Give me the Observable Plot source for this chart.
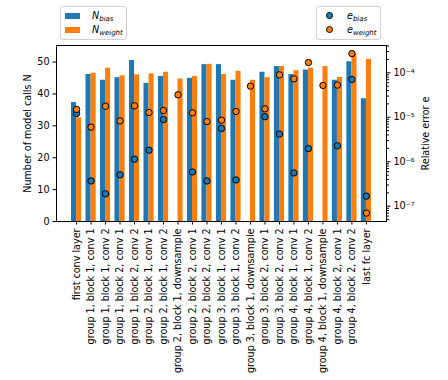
<!DOCTYPE html>
<html><head><meta charset="utf-8">
<script src="https://cdn.jsdelivr.net/npm/d3@7"></script>
<script src="https://cdn.jsdelivr.net/npm/@observablehq/plot@0.6"></script>
<style>
body{margin:0;background:#fff;font-family:"DejaVu Sans",sans-serif;}
#wrap{position:relative;width:448px;height:380px;overflow:hidden;}
#wrap svg{position:absolute;left:0;top:0;}
.legend{position:absolute;background:#fff;border:1px solid #d0d0d0;border-radius:3px;box-sizing:border-box;font-size:9.6px;color:#000;}
.legend .sw{position:absolute;width:15px;height:5.5px;}
.legend .dt{position:absolute;width:5px;height:5px;border:1px solid #000;border-radius:50%;}
.legend .lb{position:absolute;font-style:italic;line-height:10px;white-space:nowrap;}
.legend sub{font-size:7px;vertical-align:-2px;line-height:0;}
</style>
</head><body>
<div id="wrap">
  <div class="legend" style="left:60px;top:6px;width:67px;height:34px;">
    <div class="sw" style="left:4px;top:6px;background:#1f77b4"></div>
    <div class="lb" style="left:31px;top:4px;">N<sub>bias</sub></div>
    <div class="sw" style="left:4px;top:20px;background:#ff7f0e"></div>
    <div class="lb" style="left:31px;top:18px;">N<sub>weight</sub></div>
  </div>
  <div class="legend" style="left:316px;top:6px;width:65px;height:34px;">
    <div class="dt" style="left:9px;top:5px;background:#1f77b4"></div>
    <div class="lb" style="left:30px;top:4px;">e<sub>bias</sub></div>
    <div class="dt" style="left:9px;top:19px;background:#ff7f0e"></div>
    <div class="lb" style="left:30px;top:18px;">e<sub>weight</sub></div>
  </div>
</div>
<script>
const categories = [
  "first conv layer",
  "group 1, block 1, conv 1",
  "group 1, block 1, conv 2",
  "group 1, block 2, conv 1",
  "group 1, block 2, conv 2",
  "group 2, block 1, conv 1",
  "group 2, block 1, conv 2",
  "group 2, block 1, downsample",
  "group 2, block 2, conv 1",
  "group 2, block 2, conv 2",
  "group 3, block 1, conv 1",
  "group 3, block 1, conv 2",
  "group 3, block 1, downsample",
  "group 3, block 2, conv 1",
  "group 3, block 2, conv 2",
  "group 4, block 1, conv 1",
  "group 4, block 1, conv 2",
  "group 4, block 1, downsample",
  "group 4, block 2, conv 1",
  "group 4, block 2, conv 2",
  "last fc layer"
];
const nBias   = [37.3, 46.1, 44.3, 45.1, 50.5, 43.3, 45.5, null, 44.9, 49.2, 49.2, 44.3, null, 46.8, 48.6, 46.1, 47.5, null, 44.3, 50.1, 38.5];
const nWeight = [32.5, 46.5, 48.1, 45.7, 46.0, 46.3, 46.8, 44.7, 45.5, 49.3, 46.1, 47.1, 44.3, 45.1, 48.6, 47.3, 48.1, 48.6, 45.2, 52.6, 50.8];
const eBias   = [1.22e-5, 3.7e-7, 1.9e-7, 5.1e-7, 1.14e-6, 1.82e-6, 8.9e-6, null, 5.9e-7, 3.7e-7, 5.6e-6, 3.9e-7, null, 1.03e-5, 4.2e-6, 5.6e-7, 1.98e-6, null, 2.28e-6, 7.1e-5, 1.68e-7];
const eWeight = [1.5e-5, 6.0e-6, 1.77e-5, 8.3e-6, 1.81e-5, 1.28e-5, 1.42e-5, 3.2e-5, 1.26e-5, 8.0e-6, 8.6e-6, 1.35e-5, 5.0e-5, 1.55e-5, 9.0e-5, 7.3e-5, 1.7e-4, 5.2e-5, 5.3e-5, 2.7e-4, 7.0e-8];
const leftTicks = [0, 10, 20, 30, 40, 50];
const rightTicks = [1e-7, 1e-6, 1e-5, 1e-4];
const rightTickLabels = ["10⁻⁷", "10⁻⁶", "10⁻⁵", "10⁻⁴"];

const BLUE = "#1f77b4", ORANGE = "#ff7f0e";
const barW = 0.35;
const xDomain = [-1.385, 21.385];
const W = 448, H = 380;
const M = {marginLeft: 56, marginRight: 62, marginTop: 45, marginBottom: 159};
const font = {fontFamily: "DejaVu Sans", fontSize: "9.6px", background: "transparent", overflow: "visible", color: "black"};

const idx = d3.range(categories.length);
const biasRows = idx.filter(i => nBias[i] != null).map(i => ({i, v: nBias[i]}));
const weightRows = idx.map(i => ({i, v: nWeight[i]}));
const eBiasRows = idx.filter(i => eBias[i] != null).map(i => ({i, e: eBias[i]}));
const eWeightRows = idx.map(i => ({i, e: eWeight[i]}));

const minor = [];
for (let p = -8; p <= -4; p++) for (let k = 2; k <= 9; k++) {
  const v = k * Math.pow(10, p);
  if (v > 4.53e-8 && v < 4.11e-4) minor.push(v);
}

const p1 = Plot.plot({
  width: W, height: H, ...M, style: font,
  x: {domain: xDomain},
  y: {domain: [0, 55.2]},
  marks: [
    Plot.rect(biasRows, {x1: d => d.i - barW, x2: d => d.i, y1: 0, y2: "v", fill: BLUE}),
    Plot.rect(weightRows, {x1: d => d.i, x2: d => d.i + barW, y1: 0, y2: "v", fill: ORANGE}),
    Plot.axisX({ticks: idx, tickFormat: i => categories[i], tickRotate: -90, tickSize: 3.5, tickPadding: 3.5, label: null}),
    Plot.axisY({ticks: leftTicks, tickSize: 3.5, tickPadding: 3.5, label: "Number of model calls N", labelAnchor: "center", labelArrow: "none", labelOffset: 32}),
    Plot.frame({stroke: "black", strokeWidth: 1})
  ]
});

const p2 = Plot.plot({
  width: W, height: H, ...M, style: font,
  x: {domain: xDomain, axis: null},
  y: {type: "log", domain: [4.53e-8, 4.11e-4]},
  marks: [
    Plot.axisY({anchor: "right", ticks: minor, tickSize: 2, tickFormat: () => "", label: null}),
    Plot.axisY({anchor: "right", ticks: rightTicks, tickSize: 3.5, tickPadding: 3.5, tickFormat: v => rightTickLabels[rightTicks.indexOf(v)], label: "Relative error e", labelAnchor: "center", labelArrow: "none", labelOffset: 42}),
    Plot.dot(eBiasRows, {x: "i", y: "e", r: 3.2, fill: BLUE, stroke: "black", strokeWidth: 1}),
    Plot.dot(eWeightRows, {x: "i", y: "e", r: 3.2, fill: ORANGE, stroke: "black", strokeWidth: 1})
  ]
});

const wrap = document.getElementById("wrap");
wrap.insertBefore(p1, wrap.firstChild);
wrap.insertBefore(p2, p1.nextSibling);
</script>
</body></html>
